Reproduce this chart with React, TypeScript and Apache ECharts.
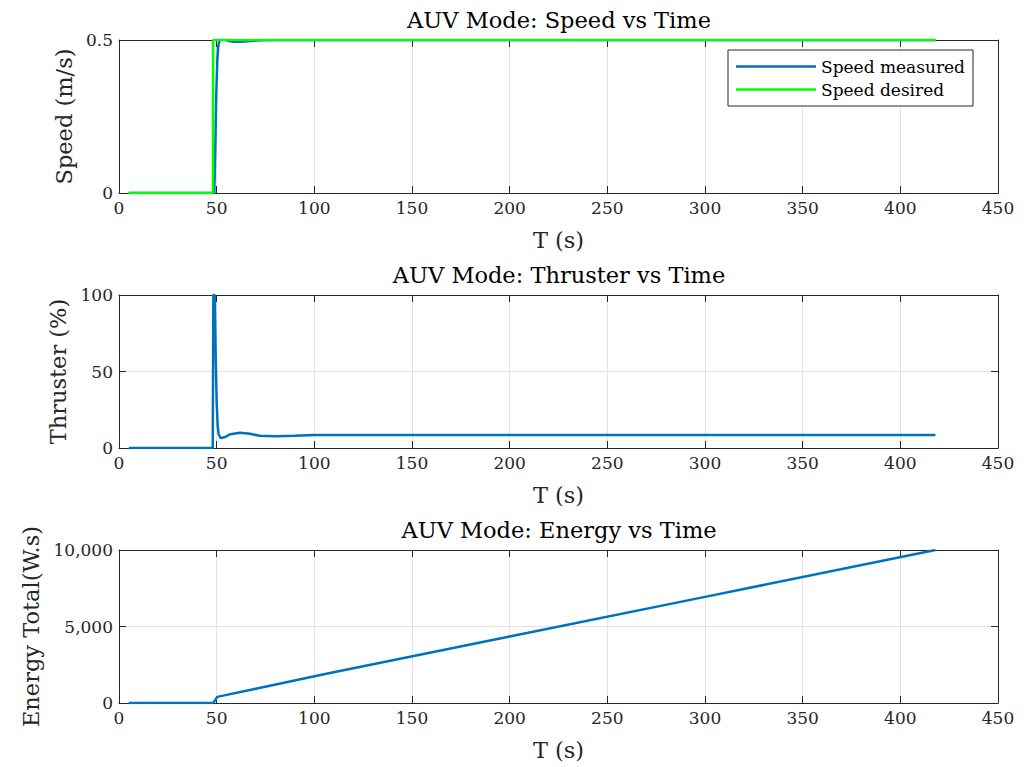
import React, { useEffect, useRef } from "react";
import * as echarts from "echarts";

// ---- data ----
const speedDesiredT = [5, 48.1, 48.2, 418];
const speedDesiredV = [0, 0, 0.5, 0.5];

const speedMeasT = [5, 48.8, 49.3, 49.8, 50.3, 50.8, 51.5, 52.5, 54, 56, 59, 62, 66, 72, 80, 418];
const speedMeasV = [0, 0, 0.15, 0.32, 0.43, 0.48, 0.5, 0.503, 0.502, 0.497, 0.494, 0.494, 0.496, 0.499, 0.5, 0.5];

const thrustT = [5, 48.0, 48.3, 49.0, 49.5, 50.0, 50.5, 51.0, 52.0, 54, 57, 62, 67, 72, 80, 90, 100, 418];
const thrustV = [0, 0, 100, 100, 60, 30, 15, 9, 6.5, 7, 9, 10, 9.3, 8, 7.6, 8, 8.5, 8.5];

const energyT = [5, 48.2, 50.3, 70, 108, 200, 300, 418];
const energyV = [0, 0, 400, 930, 1960, 4345, 6935, 10000];

const titles = ["AUV Mode: Speed vs Time", "AUV Mode: Thruster vs Time", "AUV Mode: Energy vs Time"];
const yNames = ["Speed (m/s)", "Thruster (%)", "Energy Total(W.s)"];
const yMax = [0.5, 100, 10000];
const yInterval = [0.5, 50, 5000];
const xName = "T (s)";
const legendNames = ["Speed measured", "Speed desired"];

const BLUE = "#0072BD";
const GREEN = "#00FF00";
const AX = "#262626";
const GRIDC = "#e3e3e3";
const FONT = "DejaVu Serif";

const pairs = (t: number[], v: number[]) => t.map((x, i) => [x, v[i]]);

export default function App() {
  const ref = useRef<HTMLDivElement>(null);
  useEffect(() => {
    document.body.style.margin = "0";
    const chart = echarts.init(ref.current!, undefined, { renderer: "svg" });
    const tops = [40, 295, 550];
    const grids = tops.map((t) => ({ left: 119, top: t, width: 879, height: 153 }));
    const xAxes: any[] = [];
    const yAxes: any[] = [];
    const tick = { show: true, inside: true, length: 7, lineStyle: { color: AX } };
    const line = { show: true, onZero: false, lineStyle: { color: AX, width: 1 } };
    const nameGaps = [42, 49, 77];
    tops.forEach((_, i) => {
      xAxes.push({
        type: "value", gridIndex: i, min: 0, max: 450, interval: 50, position: "bottom",
        name: xName, nameLocation: "middle", nameGap: 35,
        nameTextStyle: { fontFamily: FONT, fontSize: 22.5, color: AX },
        axisLine: line, axisTick: tick,
        axisLabel: { fontFamily: FONT, fontSize: 17, color: AX, margin: 6 },
        splitLine: { show: true, lineStyle: { color: GRIDC, width: 1 } },
      });
      xAxes.push({
        type: "value", gridIndex: i, min: 0, max: 450, interval: 50, position: "top",
        axisLine: line, axisTick: tick,
        axisLabel: { show: false }, splitLine: { show: false },
      });
      yAxes.push({
        type: "value", gridIndex: i, min: 0, max: yMax[i], interval: yInterval[i], position: "left",
        name: yNames[i], nameLocation: "middle", nameGap: nameGaps[i],
        nameTextStyle: { fontFamily: FONT, fontSize: 22.5, color: AX },
        axisLine: line, axisTick: tick,
        axisLabel: {
          fontFamily: FONT, fontSize: 17, color: AX, margin: 6,
          formatter: (v: number) => (i === 2 ? v.toLocaleString("en-US") : String(v)),
        },
        splitLine: { show: true, lineStyle: { color: GRIDC, width: 1 } },
      });
      yAxes.push({
        type: "value", gridIndex: i, min: 0, max: yMax[i], interval: yInterval[i], position: "right",
        axisLine: line, axisTick: tick,
        axisLabel: { show: false }, splitLine: { show: false },
      });
    });
    const lineBase = { type: "line", symbol: "none", showSymbol: false, smooth: false };
    chart.setOption({
      animation: false,
      backgroundColor: "#ffffff",
      title: titles.map((t, i) => ({
        text: t, left: 559, top: tops[i] - 32, textAlign: "center", padding: 0,
        textStyle: { fontFamily: FONT, fontSize: 22.5, fontWeight: "normal", color: "#000" },
      })),
      grid: grids,
      xAxis: xAxes,
      yAxis: yAxes,
      legend: {
        left: 728, top: 50, orient: "vertical", data: legendNames, icon: "rect",
        backgroundColor: "#fff", borderColor: AX, borderWidth: 1,
        padding: [8, 8, 8, 8], itemGap: 6, itemWidth: 80, itemHeight: 2.5,
        textStyle: { fontFamily: FONT, fontSize: 17, color: "#000", padding: [0, 0, 0, 0] },
      },
      series: [
        { ...lineBase, name: legendNames[0], xAxisIndex: 0, yAxisIndex: 0, data: pairs(speedMeasT, speedMeasV), lineStyle: { color: BLUE, width: 2.5 }, itemStyle: { color: BLUE } },
        { ...lineBase, name: legendNames[1], xAxisIndex: 0, yAxisIndex: 0, data: pairs(speedDesiredT, speedDesiredV), lineStyle: { color: GREEN, width: 2.5 }, itemStyle: { color: GREEN } },
        { ...lineBase, name: "Thruster", xAxisIndex: 2, yAxisIndex: 2, data: pairs(thrustT, thrustV), lineStyle: { color: BLUE, width: 2.5 }, itemStyle: { color: BLUE } },
        { ...lineBase, name: "Energy", xAxisIndex: 4, yAxisIndex: 4, data: pairs(energyT, energyV), lineStyle: { color: BLUE, width: 2.5 }, itemStyle: { color: BLUE } },
      ],
    });
    return () => chart.dispose();
  }, []);
  return <div ref={ref} style={{ position: "absolute", left: 0, top: 0, width: 1030, height: 767 }} />;
}
